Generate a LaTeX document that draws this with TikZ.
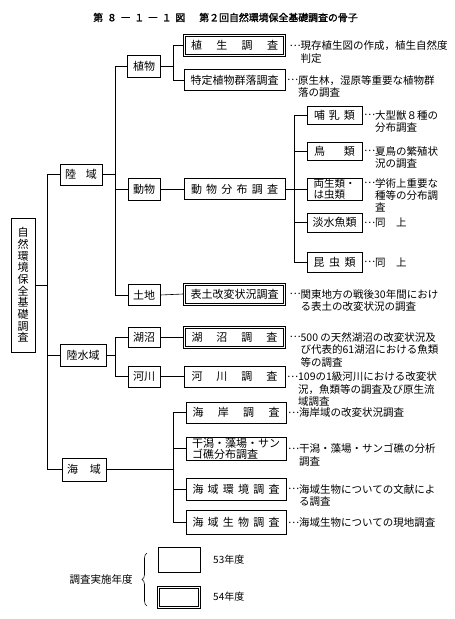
\documentclass[tikz,border=0pt]{standalone}
\usepackage{fontspec}
\setmainfont{Noto Sans CJK JP}
\newfontfamily\jp{Noto Sans CJK JP}
\newfontfamily\jpb[FakeBold=1.5]{Noto Sans CJK JP}
\usetikzlibrary{decorations.pathreplacing}
\newcommand\spr[2]{\makebox[#1][s]{#2}}
\newcommand\anl[1]{\begin{tabular}[t]{@{}l@{}}#1\end{tabular}}
\newcommand\el{\raisebox{0.3em}{…}}
\newcommand\ind{\hphantom{…}}
\newcommand\dbl[1]{\draw[ln] ([xshift=2.5pt,yshift=-2.5pt]#1.north west) rectangle ([xshift=-2.5pt,yshift=2.5pt]#1.south east);}
\tikzset{
  ln/.style={line width=0.6pt},
  bx/.style={draw, line width=0.6pt, inner sep=0pt, font=\jp\fontsize{11}{13}\selectfont, minimum height=21pt},
  dbx/.style={bx},
  an/.style={anchor=base west, inner sep=0pt, font=\jp\fontsize{10.5}{12.5}\selectfont, xshift=1.5pt, yshift=-4pt},
  dan/.style={an, xshift=2pt},
  lg/.style={inner sep=0pt, font=\jp\fontsize{10}{12}\selectfont}
}
\begin{document}
\begin{tikzpicture}[x=1pt,y=-1pt]
\useasboundingbox (0,0) rectangle (455,619);
% title
\node[inner sep=0pt, font=\jpb\fontsize{9.9}{12}\selectfont] (title) at (225.5,17.5)
  {\spr{92pt}{第\hfill ８\hfill ―\hfill １\hfill ―\hfill １\hfill 図}\hspace{14pt}第２回自然環境保全基礎調査の骨子};
% root
\node[bx, minimum width=24pt, minimum height=134pt, align=center, font=\jp\fontsize{11}{11.7}\selectfont] (root) at (23,285)
  {自\\然\\環\\境\\保\\全\\基\\礎\\調\\査};
% level 1
\node[bx, minimum width=42pt] (rikuiki) at (81,174.5) {\spr{32pt}{陸\hfill 域}};
\node[bx, minimum width=46pt, minimum height=22pt] (rikusui) at (83,355) {陸水域};
\node[bx, minimum width=44pt, minimum height=23pt] (kaiiki) at (84,469.5) {\spr{34pt}{海\hfill 域}};
% level 2
\node[bx, minimum width=33pt, minimum height=22pt] (shokubutsu) at (144,66) {植物};
\node[bx, minimum width=32pt, minimum height=22pt] (doubutsu) at (144,189) {動物};
\node[bx, minimum width=32pt] (tochi) at (144,295) {土地};
\node[bx, minimum width=32pt, minimum height=20pt] (koshou) at (144,337) {湖沼};
\node[bx, minimum width=32pt] (kasen) at (144,376.5) {河川};
% level 3 (land)
\node[dbx, minimum width=102pt, minimum height=22pt] (shokusei) at (234.5,45.5) {\spr{87pt}{植\hfill 生\hfill 調\hfill 査}};
\dbl{shokusei}
\node[bx, minimum width=101pt] (tokutei) at (234.5,80) {特定植物群落調査};
\node[bx, minimum width=101pt] (bunpu) at (234.5,189) {\spr{87pt}{動\hfill 物\hfill 分\hfill 布\hfill 調\hfill 査}};
\node[dbx, minimum width=102pt, minimum height=22pt] (hyodo) at (234.5,294) {表土改変状況調査};
\dbl{hyodo}
\node[dbx, minimum width=102pt, minimum height=22pt] (koshouc) at (234.5,337) {\spr{86pt}{湖\hfill 沼\hfill 調\hfill 査}};
\dbl{koshouc}
\node[bx, minimum width=101pt] (kasenc) at (234.5,376.5) {\spr{86pt}{河\hfill 川\hfill 調\hfill 査}};
% level 4 (animals)
\node[bx, minimum width=55pt, minimum height=18pt] (honyu) at (334.5,115) {\spr{41pt}{哺\hfill 乳\hfill 類}};
\node[bx, minimum width=55pt, minimum height=18pt] (tori) at (334.5,151) {\spr{41pt}{鳥\hfill 類}};
\node[bx, minimum width=55pt, minimum height=22pt, align=left, font=\jp\fontsize{10.5}{11.5}\selectfont] (ryosei) at (334.5,189) {両生類・\\は虫類};
\node[bx, minimum width=55pt, minimum height=19pt] (tansui) at (334.5,222.5) {淡水魚類};
\node[bx, minimum width=55pt, minimum height=20pt] (konchu) at (334.5,262) {\spr{42pt}{昆\hfill 虫\hfill 類}};
% level 3 (sea)
\node[bx, minimum width=100pt] (kaigan) at (236,412.5) {\spr{87pt}{海\hfill 岸\hfill 調\hfill 査}};
\node[bx, minimum width=100pt, minimum height=23pt, align=left, font=\jp\fontsize{11}{11}\selectfont] (higata) at (236,448.5) {干潟・藻場・サン\\ゴ礁分布調査};
\node[bx, minimum width=100pt, minimum height=22pt] (kankyo) at (236,489) {\spr{87pt}{海\hfill 域\hfill 環\hfill 境\hfill 調\hfill 査}};
\node[bx, minimum width=100pt, minimum height=24pt] (seibutsu) at (236,522.5) {\spr{87pt}{海\hfill 域\hfill 生\hfill 物\hfill 調\hfill 査}};
% junctions
\coordinate (t1) at (47,285);
\coordinate (j1) at (115,174.5);
\coordinate (j2) at (115,355);
\coordinate (j3) at (173,66);
\coordinate (j4) at (294,189);
\coordinate (j5) at (173,469.5);
% connectors
\draw[ln] (root.east) -- (t1);
\draw[ln] (t1) |- (rikuiki.west);
\draw[ln] (t1) |- (rikusui.west);
\draw[ln] (t1) |- (kaiiki.west);
\draw[ln] (rikuiki.east) -- (j1);
\draw[ln] (j1) |- (shokubutsu.west);
\draw[ln] (j1) |- (doubutsu.west);
\draw[ln] (j1) |- (tochi.west);
\draw[ln] (rikusui.east) -- (j2);
\draw[ln] (j2) |- (koshou.west);
\draw[ln] (j2) |- (kasen.west);
\draw[ln] (shokubutsu.east) -- (j3);
\draw[ln] (j3) |- (shokusei.west);
\draw[ln] (j3) |- (tokutei.west);
\draw[ln] (doubutsu.east) -- (bunpu.west);
\draw[ln] (bunpu.east) -- (j4);
\draw[ln] (j4) |- (honyu.west);
\draw[ln] (j4) |- (tori.west);
\draw[ln] (j4) |- (ryosei.west);
\draw[ln] (j4) |- (tansui.west);
\draw[ln] (j4) |- (konchu.west);
\draw[ln] (tochi.east) -- (hyodo.west);
\draw[ln] (koshou.east) -- (koshouc.west);
\draw[ln] (kasen.east) -- (kasenc.west);
\draw[ln] (kaiiki.east) -- (j5);
\draw[ln] (j5) |- (kaigan.west);
\draw[ln] (j5) |- (higata.west);
\draw[ln] (j5) |- (kankyo.west);
\draw[ln] (j5) |- (seibutsu.west);
% annotations
\node[dan] (a1) at (shokusei.east) {\anl{\el 現存植生図の作成，植生自然度\\\ind 判定}};
\node[an] (a2) at (tokutei.east) {\anl{\el 原生林，湿原等重要な植物群\\\ind 落の調査}};
\node[an] (a3) at (honyu.east) {\anl{\el 大型獣８種の\\\ind 分布調査}};
\node[an] (a4) at (tori.east) {\anl{\el 夏鳥の繁殖状\\\ind 況の調査}};
\node[an, yshift=6pt, font=\jp\fontsize{10.5}{11.2}\selectfont] (a5) at (ryosei.east) {\anl{\el 学術上重要な\\\ind 種等の分布調\\\ind 査}};
\node[an] (a6) at (tansui.east) {\anl{\el 同　上}};
\node[an] (a7) at (konchu.east) {\anl{\el 同　上}};
\node[dan] (a8) at (hyodo.east) {\anl{\el 関東地方の戦後30年間におけ\\\ind る表土の改変状況の調査}};
\node[dan] (a9) at (koshouc.east) {\anl{\el 500 の天然湖沼の改変状況及\\\ind び代表的61湖沼における魚類\\\ind 等の調査}};
\node[an] (a10) at (kasenc.east) {\anl{\el 109の1級河川における改変状\\\ind 況，魚類等の調査及び原生流\\\ind 域調査}};
\node[an] (a11) at (kaigan.east) {\anl{\el 海岸域の改変状況調査}};
\node[an] (a12) at (higata.east) {\anl{\el 干潟・藻場・サンゴ礁の分析\\\ind 調査}};
\node[an] (a13) at (kankyo.east) {\anl{\el 海域生物についての文献によ\\\ind る調査}};
\node[an] (a14) at (seibutsu.east) {\anl{\el 海域生物についての現地調査}};
% legend
\node[lg, font=\jp\fontsize{10.5}{12}\selectfont] (lgtitle) at (101,580) {調査実施年度};
\coordinate (br1) at (147,606);
\coordinate (br2) at (147,553);
\draw[ln, decorate, decoration={brace, amplitude=5pt}] (br1) -- (br2);
\node[bx, minimum width=42pt, minimum height=25pt] (lg53) at (179,559.5) {};
\node[dbx, minimum width=43pt, minimum height=22pt] (lg54) at (179,597.5) {};
\dbl{lg54}
\node[lg, anchor=west] (t53) at (213,560) {53年度};
\node[lg, anchor=west] (t54) at (213,597) {54年度};
\end{tikzpicture}
\end{document}
